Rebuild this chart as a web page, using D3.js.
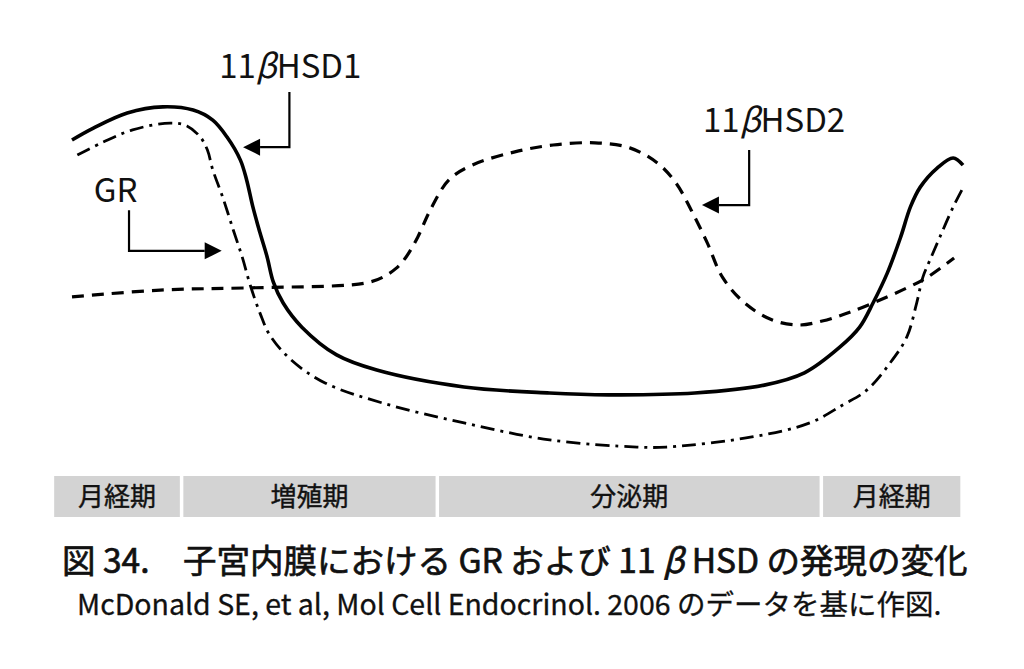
<!DOCTYPE html>
<html>
<head>
<meta charset="utf-8">
<script src="https://cdn.jsdelivr.net/npm/d3@7"></script>
<style>
  html, body { margin: 0; padding: 0; background: #fff; }
  svg { display: block; }
  text { font-family: "Noto Sans CJK JP", "Noto Sans", sans-serif; fill: #111; }
</style>
</head>
<body>
<svg id="chart" width="1024" height="669"></svg>
<script>
// ---- data (x: position in cycle 0-100, y: relative expression 0-100) ----
const hsd1X = [0, 2.4, 6.2, 10.2, 13.6, 15.8, 17.4, 18.9, 19.6, 20.3, 21.1, 21.9, 22.6, 23.7, 25.8, 29.7, 34.2, 44.0, 53.6, 60.2, 69.9, 77.7, 82.2, 86.2, 88.4, 89.9, 91.5, 93.0, 94.1, 95.2, 97.1, 98.9, 100.0];
const hsd1Y = [88.9, 92.2, 96.4, 98.1, 97.2, 94.4, 89.7, 83.3, 77.8, 70.3, 63.1, 56.4, 49.4, 43.6, 36.9, 29.2, 25.0, 20.3, 18.6, 18.1, 18.6, 20.8, 24.2, 31.4, 36.9, 43.6, 51.9, 61.9, 70.3, 75.8, 81.1, 83.9, 81.9];

const grX = [0.6, 3.5, 6.8, 11.0, 12.9, 14.4, 15.2, 15.8, 16.9, 18.1, 19.1, 20.0, 21.1, 22.2, 24.6, 28.4, 34.9, 44.0, 53.6, 63.4, 66.7, 76.3, 82.8, 86.5, 89.2, 91.8, 93.7, 94.8, 95.5, 96.3, 97.4, 98.9, 100.0];
const grY = [84.7, 88.3, 91.7, 93.6, 92.8, 89.7, 86.1, 80.6, 73.1, 63.9, 56.4, 48.6, 40.8, 34.7, 27.8, 21.4, 15.8, 10.3, 5.6, 3.6, 3.6, 6.4, 10.3, 15.3, 19.4, 26.9, 34.2, 43.6, 50.8, 55.6, 61.9, 70.3, 75.6];

const hsd2X = [0, 9.9, 19.6, 31.1, 33.4, 34.9, 36.4, 37.5, 38.8, 40.2, 42.3, 44.9, 49.7, 54.0, 58.7, 62.6, 65.7, 67.8, 69.5, 71.3, 73.0, 75.5, 78.6, 81.6, 84.2, 86.8, 89.9, 93.7, 95.9, 99.0];
const hsd2Y = [45.3, 47.2, 47.8, 48.6, 49.4, 50.8, 53.3, 56.4, 61.9, 69.4, 77.8, 81.9, 85.6, 87.5, 88.1, 86.7, 82.5, 76.9, 69.4, 60.3, 50.8, 43.6, 38.9, 37.5, 38.6, 40.6, 43.6, 47.8, 50.6, 56.1];

// phases along the cycle
const phaseNames = ["月経期", "増殖期", "分泌期", "月経期"];
const phaseBounds = [-2.0, 12.3, 41.0, 84.1, 99.7];

// labels with callout arrows: label position, elbow (vertical line) and arrow tip
const labelNames = ["11βHSD1", "GR", "11βHSD2"];
const labelX = [24.5, 4.9, 78.8];
const labelY = [106.1, 71.7, 91.1];
const elbowX = [24.4, 6.4, 76.0];
const elbowTopY = [102.2, 69.4, 86.1];
const elbowBotY = [86.9, 58.1, 70.8];
const tipX = [19.2, 16.8, 70.7];

const titleParts = ["図 34.\u3000子宮内膜における GR および 11 ", "β", " HSD の発現の変化"];
const sourceText = "McDonald SE, et al, Mol Cell Endocrinol. 2006 のデータを基に作図.";

// ---- drawing ----
const svg = d3.select("#chart");
const x = d3.scaleLinear().domain([0, 100]).range([72, 963]);
const y = d3.scaleLinear().domain([0, 100]).range([460, 100]);

const line = d3.line().x(d => x(d[0])).y(d => y(d[1])).curve(d3.curveCatmullRom.alpha(0.5));

const series = [
  { xs: hsd2X, ys: hsd2Y, dash: "12,8", w: 3.2 },
  { xs: grX, ys: grY, dash: "14,6,3,6", w: 2.8 },
  { xs: hsd1X, ys: hsd1Y, dash: null, w: 3.6 }
];
series.forEach(s => {
  const pts = s.xs.map((v, i) => [v, s.ys[i]]);
  svg.append("path")
    .attr("d", line(pts))
    .attr("fill", "none")
    .attr("stroke", "#000")
    .attr("stroke-width", s.w)
    .attr("stroke-linecap", "butt")
    .attr("stroke-dasharray", s.dash);
});

// callouts
labelNames.forEach((name, i) => {
  const t = svg.append("text")
    .attr("x", x(labelX[i]))
    .attr("y", y(labelY[i]))
    .attr("text-anchor", "middle")
    .attr("font-size", 33);
  if (name.includes("β")) {
    const parts = name.split("β");
    t.append("tspan").text(parts[0]);
    t.append("tspan").attr("font-style", "italic").text("β");
    t.append("tspan").text(parts[1]);
  } else {
    t.text(name);
  }
  const ex = x(elbowX[i]), ey1 = y(elbowTopY[i]), ey2 = y(elbowBotY[i]);
  const tx = x(tipX[i]);
  const dir = tx < ex ? -1 : 1;
  const headLen = 17, headHalf = 8.5;
  const baseX = tx - dir * headLen;
  svg.append("path")
    .attr("d", `M${ex},${ey1} L${ex},${ey2} L${baseX},${ey2}`)
    .attr("fill", "none").attr("stroke", "#000").attr("stroke-width", 2.2);
  svg.append("path")
    .attr("d", `M${tx},${ey2} L${baseX},${ey2 - headHalf} L${baseX},${ey2 + headHalf} Z`)
    .attr("fill", "#000");
});

// phase bar
const gap = 3.5;
const barTop = 476, barH = 41;
phaseNames.forEach((p, i) => {
  const x0 = x(phaseBounds[i]) + (i === 0 ? 0 : gap / 2);
  const x1 = x(phaseBounds[i + 1]) - (i === phaseNames.length - 1 ? 0 : gap / 2);
  svg.append("rect")
    .attr("x", x0).attr("y", barTop).attr("width", x1 - x0).attr("height", barH)
    .attr("fill", "#d3d3d3");
  svg.append("text")
    .attr("x", (x0 + x1) / 2).attr("y", barTop + barH / 2 + 9)
    .attr("text-anchor", "middle")
    .attr("font-size", 26)
    .attr("stroke", "#111").attr("stroke-width", 0.4)
    .text(p);
});

// title and source
const title = svg.append("text").attr("x", 62).attr("y", 573).attr("font-size", 33.5)
  .attr("stroke", "#111").attr("stroke-width", 0.7);
title.append("tspan").text(titleParts[0]);
title.append("tspan").attr("font-style", "italic").text(titleParts[1]);
title.append("tspan").text(titleParts[2]);
svg.append("text").attr("x", 77).attr("y", 615).attr("font-size", 28.5)
  .attr("stroke", "#111").attr("stroke-width", 0.3).text(sourceText);
</script>
</body>
</html>
